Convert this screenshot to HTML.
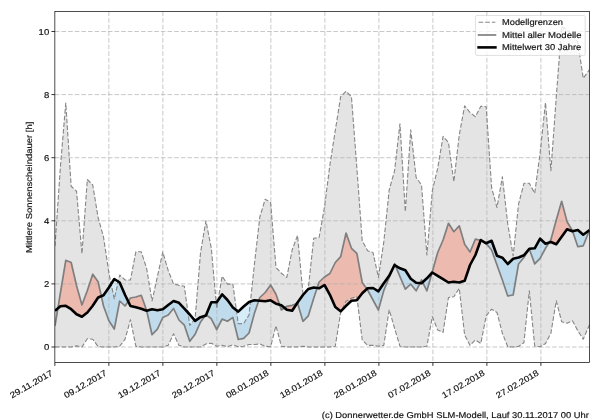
<!DOCTYPE html><html><head><meta charset="utf-8"><title>chart</title><style>html,body{margin:0;padding:0;background:#fff}body{width:600px;height:420px;overflow:hidden}</style></head><body><svg width="600" height="420" viewBox="0 0 600 420" style="display:block;font-family:'Liberation Sans',sans-serif">
<rect width="600" height="420" fill="#fff"/>
<defs><clipPath id="ax"><rect x="54.85" y="11.50" width="534.65" height="351.00"/></clipPath>
<clipPath id="band"><polygon points="55.00,246.00 60.39,167.00 65.78,103.00 71.17,186.25 76.56,191.25 81.95,253.75 87.34,179.50 92.73,185.00 98.12,217.50 103.51,237.00 108.90,273.00 114.29,299.00 119.68,275.00 125.07,280.00 130.46,280.00 135.85,251.80 141.24,251.80 146.63,268.30 152.02,301.00 157.41,276.50 162.80,252.00 168.19,270.50 173.58,284.00 178.97,285.30 184.36,286.30 189.75,325.50 195.14,318.50 200.53,252.70 205.92,220.80 211.31,248.20 216.70,308.50 222.09,276.20 227.48,284.10 232.87,284.10 238.26,323.80 243.65,323.50 249.04,315.00 254.43,264.00 259.82,217.00 265.21,199.20 270.60,202.50 275.99,267.50 281.38,273.30 286.77,277.50 292.16,250.00 297.55,235.30 302.94,293.50 308.33,288.00 313.72,238.30 319.11,237.50 324.50,207.00 329.89,165.00 335.28,130.50 340.67,96.70 346.06,91.30 351.45,96.70 356.84,167.50 362.23,240.80 367.62,250.80 373.01,252.50 378.40,277.50 383.79,242.00 389.18,190.00 394.57,170.80 399.96,123.70 405.35,211.70 410.74,129.70 416.13,177.50 421.52,185.00 426.91,255.00 432.30,190.80 437.69,168.30 443.08,136.30 448.47,142.50 453.86,181.70 459.25,135.00 464.64,105.80 470.03,112.50 475.42,116.70 480.81,106.30 486.20,106.70 491.59,187.50 496.98,207.50 502.37,176.70 507.76,224.00 513.15,255.80 518.54,204.20 523.93,183.30 529.32,183.30 534.71,193.30 540.10,153.00 545.49,102.50 550.88,170.80 556.27,97.00 561.66,26.50 567.05,30.00 572.44,35.00 577.83,42.00 583.22,78.30 588.61,70.80 589.50,69.56 589.50,324.64 588.61,326.70 583.22,339.20 577.83,330.80 572.44,320.80 567.05,323.30 561.66,321.70 556.27,300.80 550.88,333.30 545.49,343.55 540.10,346.75 534.71,346.24 529.32,290.80 523.93,342.69 518.54,346.45 513.15,346.95 507.76,346.75 502.37,333.30 496.98,312.50 491.59,309.20 486.20,315.80 480.81,343.55 475.42,340.00 470.03,345.38 464.64,335.00 459.25,288.30 453.86,296.70 448.47,297.50 443.08,332.50 437.69,330.00 432.30,316.70 426.91,346.24 421.52,346.95 416.13,346.95 410.74,346.95 405.35,346.95 399.96,346.24 394.57,328.30 389.18,309.70 383.79,345.38 378.40,346.24 373.01,345.38 367.62,345.38 362.23,340.00 356.84,296.70 351.45,298.30 346.06,301.30 340.67,312.50 335.28,346.24 329.89,346.95 324.50,346.95 319.11,346.95 313.72,346.95 308.33,346.95 302.94,346.24 297.55,346.95 292.16,346.95 286.77,346.95 281.38,346.24 275.99,325.80 270.60,346.75 265.21,346.24 259.82,343.98 254.43,344.51 249.04,344.51 243.65,346.24 238.26,346.65 232.87,344.84 227.48,346.65 222.09,345.38 216.70,346.24 211.31,343.23 205.92,343.98 200.53,346.95 195.14,346.95 189.75,346.95 184.36,346.95 178.97,345.38 173.58,333.70 168.19,345.38 162.80,346.95 157.41,346.95 152.02,346.95 146.63,346.95 141.24,346.95 135.85,346.24 130.46,319.70 125.07,339.20 119.68,346.24 114.29,346.95 108.90,346.95 103.51,346.95 98.12,346.65 92.73,339.20 87.34,338.70 81.95,346.95 76.56,345.91 71.17,346.95 65.78,346.95 60.39,346.95 55.00,346.95"/></clipPath></defs>
<g clip-path="url(#ax)">
<polygon points="55.00,246.00 60.39,167.00 65.78,103.00 71.17,186.25 76.56,191.25 81.95,253.75 87.34,179.50 92.73,185.00 98.12,217.50 103.51,237.00 108.90,273.00 114.29,299.00 119.68,275.00 125.07,280.00 130.46,280.00 135.85,251.80 141.24,251.80 146.63,268.30 152.02,301.00 157.41,276.50 162.80,252.00 168.19,270.50 173.58,284.00 178.97,285.30 184.36,286.30 189.75,325.50 195.14,318.50 200.53,252.70 205.92,220.80 211.31,248.20 216.70,308.50 222.09,276.20 227.48,284.10 232.87,284.10 238.26,323.80 243.65,323.50 249.04,315.00 254.43,264.00 259.82,217.00 265.21,199.20 270.60,202.50 275.99,267.50 281.38,273.30 286.77,277.50 292.16,250.00 297.55,235.30 302.94,293.50 308.33,288.00 313.72,238.30 319.11,237.50 324.50,207.00 329.89,165.00 335.28,130.50 340.67,96.70 346.06,91.30 351.45,96.70 356.84,167.50 362.23,240.80 367.62,250.80 373.01,252.50 378.40,277.50 383.79,242.00 389.18,190.00 394.57,170.80 399.96,123.70 405.35,211.70 410.74,129.70 416.13,177.50 421.52,185.00 426.91,255.00 432.30,190.80 437.69,168.30 443.08,136.30 448.47,142.50 453.86,181.70 459.25,135.00 464.64,105.80 470.03,112.50 475.42,116.70 480.81,106.30 486.20,106.70 491.59,187.50 496.98,207.50 502.37,176.70 507.76,224.00 513.15,255.80 518.54,204.20 523.93,183.30 529.32,183.30 534.71,193.30 540.10,153.00 545.49,102.50 550.88,170.80 556.27,97.00 561.66,26.50 567.05,30.00 572.44,35.00 577.83,42.00 583.22,78.30 588.61,70.80 589.50,69.56 589.50,324.64 588.61,326.70 583.22,339.20 577.83,330.80 572.44,320.80 567.05,323.30 561.66,321.70 556.27,300.80 550.88,333.30 545.49,343.55 540.10,346.75 534.71,346.24 529.32,290.80 523.93,342.69 518.54,346.45 513.15,346.95 507.76,346.75 502.37,333.30 496.98,312.50 491.59,309.20 486.20,315.80 480.81,343.55 475.42,340.00 470.03,345.38 464.64,335.00 459.25,288.30 453.86,296.70 448.47,297.50 443.08,332.50 437.69,330.00 432.30,316.70 426.91,346.24 421.52,346.95 416.13,346.95 410.74,346.95 405.35,346.95 399.96,346.24 394.57,328.30 389.18,309.70 383.79,345.38 378.40,346.24 373.01,345.38 367.62,345.38 362.23,340.00 356.84,296.70 351.45,298.30 346.06,301.30 340.67,312.50 335.28,346.24 329.89,346.95 324.50,346.95 319.11,346.95 313.72,346.95 308.33,346.95 302.94,346.24 297.55,346.95 292.16,346.95 286.77,346.95 281.38,346.24 275.99,325.80 270.60,346.75 265.21,346.24 259.82,343.98 254.43,344.51 249.04,344.51 243.65,346.24 238.26,346.65 232.87,344.84 227.48,346.65 222.09,345.38 216.70,346.24 211.31,343.23 205.92,343.98 200.53,346.95 195.14,346.95 189.75,346.95 184.36,346.95 178.97,345.38 173.58,333.70 168.19,345.38 162.80,346.95 157.41,346.95 152.02,346.95 146.63,346.95 141.24,346.95 135.85,346.24 130.46,319.70 125.07,339.20 119.68,346.24 114.29,346.95 108.90,346.95 103.51,346.95 98.12,346.65 92.73,339.20 87.34,338.70 81.95,346.95 76.56,345.91 71.17,346.95 65.78,346.95 60.39,346.95 55.00,346.95" fill="#e4e4e4"/>
<path d="M57.87,308.35 L60.39,293.00 L60.39,306.20Z M60.39,293.00 L65.78,260.30 L65.78,305.80 L60.39,306.20Z M65.78,260.30 L71.17,262.50 L71.17,309.20 L65.78,305.80Z M71.17,262.50 L76.56,285.80 L76.56,314.20 L71.17,309.20Z M76.56,285.80 L81.95,305.00 L81.95,316.70 L76.56,314.20Z M81.95,305.00 L87.34,290.50 L87.34,312.50 L81.95,316.70Z M87.34,290.50 L92.73,274.20 L92.73,305.80 L87.34,312.50Z M92.73,274.20 L98.12,281.70 L98.12,297.50 L92.73,305.80Z M98.12,281.70 L101.33,296.19 L98.12,297.50Z M128.19,301.37 L130.46,298.00 L130.46,306.00Z M130.46,298.00 L135.85,297.00 L135.85,307.30 L130.46,306.00Z M135.85,297.00 L141.24,295.30 L141.24,308.80 L135.85,307.30Z M141.24,295.30 L146.63,310.50 L146.63,310.80 L141.24,308.80Z M146.63,310.50 L146.69,310.78 L146.63,310.80Z M205.23,315.63 L205.92,314.70 L205.92,315.40Z M205.92,314.70 L206.14,314.87 L205.92,315.40Z M258.73,300.70 L259.82,297.50 L259.82,300.80Z M259.82,297.50 L265.21,292.50 L265.21,301.30 L259.82,300.80Z M265.21,292.50 L270.60,285.00 L270.60,300.30 L265.21,301.30Z M270.60,285.00 L275.99,294.20 L275.99,303.70 L270.60,300.30Z M275.99,294.20 L279.60,304.77 L275.99,303.70Z M284.51,307.85 L286.77,306.30 L286.77,309.70Z M286.77,306.30 L292.16,305.30 L292.16,310.80 L286.77,309.70Z M292.16,305.30 L296.87,303.55 L292.16,310.80Z M317.12,288.01 L319.11,282.00 L319.11,288.30Z M319.11,282.00 L324.50,277.00 L324.50,285.00 L319.11,288.30Z M324.50,277.00 L329.89,273.50 L329.89,294.80 L324.50,285.00Z M329.89,273.50 L335.28,262.50 L335.28,307.00 L329.89,294.80Z M335.28,262.50 L340.67,256.70 L340.67,311.30 L335.28,307.00Z M340.67,256.70 L346.06,233.00 L346.06,305.80 L340.67,311.30Z M346.06,233.00 L351.45,248.30 L351.45,300.80 L346.06,305.80Z M351.45,248.30 L356.84,253.30 L356.84,300.30 L351.45,300.80Z M356.84,253.30 L362.23,282.50 L362.23,293.30 L356.84,300.30Z M362.23,282.50 L366.89,288.98 L362.23,293.30Z M392.23,269.68 L394.57,263.70 L394.57,265.00Z M394.57,263.70 L395.29,265.44 L394.57,265.00Z M419.96,283.13 L421.52,280.00 L421.52,283.30Z M421.52,280.00 L422.65,282.26 L421.52,283.30Z M431.98,272.85 L432.30,271.70 L432.30,272.50Z M432.30,271.70 L437.69,252.50 L437.69,275.80 L432.30,272.50Z M437.69,252.50 L443.08,240.00 L443.08,279.20 L437.69,275.80Z M443.08,240.00 L448.47,223.30 L448.47,282.50 L443.08,279.20Z M448.47,223.30 L453.86,231.70 L453.86,281.70 L448.47,282.50Z M453.86,231.70 L459.25,225.80 L459.25,282.50 L453.86,281.70Z M459.25,225.80 L464.64,244.20 L464.64,280.80 L459.25,282.50Z M464.64,244.20 L470.03,252.00 L470.03,265.00 L464.64,280.80Z M470.03,252.00 L475.42,239.20 L475.42,255.00 L470.03,265.00Z M475.42,239.20 L480.64,240.46 L475.42,255.00Z M549.08,242.57 L550.88,239.70 L550.88,242.00Z M550.88,239.70 L556.27,220.00 L556.27,244.20 L550.88,242.00Z M556.27,220.00 L561.66,201.30 L561.66,236.70 L556.27,244.20Z M561.66,201.30 L567.05,221.70 L567.05,229.20 L561.66,236.70Z M567.05,221.70 L572.44,230.80 L572.44,231.30 L567.05,229.20Z M572.44,230.80 L572.60,231.26 L572.44,231.30Z" fill="#f6d6cd"/>
<path d="M55.00,325.80 L57.87,308.35 L55.00,310.80Z M101.33,296.19 L103.51,306.00 L103.51,295.30Z M103.51,306.00 L108.90,320.80 L108.90,287.50 L103.51,295.30Z M108.90,320.80 L114.29,329.00 L114.29,279.00 L108.90,287.50Z M114.29,329.00 L119.68,301.00 L119.68,282.50 L114.29,279.00Z M119.68,301.00 L125.07,306.00 L125.07,295.00 L119.68,282.50Z M125.07,306.00 L128.19,301.37 L125.07,295.00Z M146.69,310.78 L152.02,334.70 L152.02,309.20Z M152.02,334.70 L157.41,329.20 L157.41,310.20 L152.02,309.20Z M157.41,329.20 L162.80,317.50 L162.80,309.20 L157.41,310.20Z M162.80,317.50 L168.19,315.00 L168.19,305.00 L162.80,309.20Z M168.19,315.00 L173.58,308.50 L173.58,301.00 L168.19,305.00Z M173.58,308.50 L178.97,320.00 L178.97,302.80 L173.58,301.00Z M178.97,320.00 L184.36,325.20 L184.36,308.60 L178.97,302.80Z M184.36,325.20 L189.75,341.30 L189.75,314.50 L184.36,308.60Z M189.75,341.30 L195.14,334.20 L195.14,320.80 L189.75,314.50Z M195.14,334.20 L200.53,322.00 L200.53,317.20 L195.14,320.80Z M200.53,322.00 L205.23,315.63 L200.53,317.20Z M206.14,314.87 L211.31,318.80 L211.31,302.30Z M211.31,318.80 L216.70,329.50 L216.70,302.30 L211.31,302.30Z M216.70,329.50 L222.09,319.10 L222.09,294.40 L216.70,302.30Z M222.09,319.10 L227.48,321.20 L227.48,300.00 L222.09,294.40Z M227.48,321.20 L232.87,317.40 L232.87,307.50 L227.48,300.00Z M232.87,317.40 L238.26,339.50 L238.26,311.60 L232.87,307.50Z M238.26,339.50 L243.65,338.30 L243.65,306.50 L238.26,311.60Z M243.65,338.30 L249.04,333.00 L249.04,302.00 L243.65,306.50Z M249.04,333.00 L254.43,313.30 L254.43,300.30 L249.04,302.00Z M254.43,313.30 L258.73,300.70 L254.43,300.30Z M279.60,304.77 L281.38,310.00 L281.38,305.30Z M281.38,310.00 L284.51,307.85 L281.38,305.30Z M296.87,303.55 L297.55,303.30 L297.55,302.50Z M297.55,303.30 L302.94,321.30 L302.94,295.00 L297.55,302.50Z M302.94,321.30 L308.33,315.80 L308.33,289.00 L302.94,295.00Z M308.33,315.80 L313.72,298.30 L313.72,287.50 L308.33,289.00Z M313.72,298.30 L317.12,288.01 L313.72,287.50Z M366.89,288.98 L367.62,290.00 L367.62,288.30Z M367.62,290.00 L373.01,300.00 L373.01,288.00 L367.62,288.30Z M373.01,300.00 L378.40,310.00 L378.40,291.30 L373.01,288.00Z M378.40,310.00 L383.79,290.50 L383.79,283.30 L378.40,291.30Z M383.79,290.50 L389.18,277.50 L389.18,275.80 L383.79,283.30Z M389.18,277.50 L392.23,269.68 L389.18,275.80Z M395.29,265.44 L399.96,276.70 L399.96,268.30Z M399.96,276.70 L405.35,289.20 L405.35,270.30 L399.96,268.30Z M405.35,289.20 L410.74,284.20 L410.74,278.80 L405.35,270.30Z M410.74,284.20 L416.13,290.80 L416.13,282.70 L410.74,278.80Z M416.13,290.80 L419.96,283.13 L416.13,282.70Z M422.65,282.26 L426.91,290.80 L426.91,278.30Z M426.91,290.80 L431.98,272.85 L426.91,278.30Z M480.64,240.46 L480.81,240.50 L480.81,240.00Z M480.81,240.50 L486.20,243.50 L486.20,243.30 L480.81,240.00Z M486.20,243.50 L491.59,250.00 L491.59,240.80 L486.20,243.30Z M491.59,250.00 L496.98,265.00 L496.98,255.80 L491.59,240.80Z M496.98,265.00 L502.37,280.00 L502.37,257.70 L496.98,255.80Z M502.37,280.00 L507.76,296.00 L507.76,264.00 L502.37,257.70Z M507.76,296.00 L513.15,295.00 L513.15,258.70 L507.76,264.00Z M513.15,295.00 L518.54,264.00 L518.54,257.50 L513.15,258.70Z M518.54,264.00 L523.93,257.50 L523.93,255.30 L518.54,257.50Z M523.93,257.50 L529.32,249.00 L529.32,248.70 L523.93,255.30Z M529.32,249.00 L534.71,263.90 L534.71,248.30 L529.32,248.70Z M534.71,263.90 L540.10,258.30 L540.10,238.70 L534.71,248.30Z M540.10,258.30 L545.49,248.30 L545.49,243.70 L540.10,238.70Z M545.49,248.30 L549.08,242.57 L545.49,243.70Z M572.60,231.26 L577.83,246.70 L577.83,230.00Z M577.83,246.70 L583.22,245.80 L583.22,234.70 L577.83,230.00Z M583.22,245.80 L588.61,232.50 L588.61,230.80 L583.22,234.70Z" fill="#d7edf8"/>
<g clip-path="url(#band)"><path d="M57.87,308.35 L60.39,293.00 L60.39,306.20Z M60.39,293.00 L65.78,260.30 L65.78,305.80 L60.39,306.20Z M65.78,260.30 L71.17,262.50 L71.17,309.20 L65.78,305.80Z M71.17,262.50 L76.56,285.80 L76.56,314.20 L71.17,309.20Z M76.56,285.80 L81.95,305.00 L81.95,316.70 L76.56,314.20Z M81.95,305.00 L87.34,290.50 L87.34,312.50 L81.95,316.70Z M87.34,290.50 L92.73,274.20 L92.73,305.80 L87.34,312.50Z M92.73,274.20 L98.12,281.70 L98.12,297.50 L92.73,305.80Z M98.12,281.70 L101.33,296.19 L98.12,297.50Z M128.19,301.37 L130.46,298.00 L130.46,306.00Z M130.46,298.00 L135.85,297.00 L135.85,307.30 L130.46,306.00Z M135.85,297.00 L141.24,295.30 L141.24,308.80 L135.85,307.30Z M141.24,295.30 L146.63,310.50 L146.63,310.80 L141.24,308.80Z M146.63,310.50 L146.69,310.78 L146.63,310.80Z M205.23,315.63 L205.92,314.70 L205.92,315.40Z M205.92,314.70 L206.14,314.87 L205.92,315.40Z M258.73,300.70 L259.82,297.50 L259.82,300.80Z M259.82,297.50 L265.21,292.50 L265.21,301.30 L259.82,300.80Z M265.21,292.50 L270.60,285.00 L270.60,300.30 L265.21,301.30Z M270.60,285.00 L275.99,294.20 L275.99,303.70 L270.60,300.30Z M275.99,294.20 L279.60,304.77 L275.99,303.70Z M284.51,307.85 L286.77,306.30 L286.77,309.70Z M286.77,306.30 L292.16,305.30 L292.16,310.80 L286.77,309.70Z M292.16,305.30 L296.87,303.55 L292.16,310.80Z M317.12,288.01 L319.11,282.00 L319.11,288.30Z M319.11,282.00 L324.50,277.00 L324.50,285.00 L319.11,288.30Z M324.50,277.00 L329.89,273.50 L329.89,294.80 L324.50,285.00Z M329.89,273.50 L335.28,262.50 L335.28,307.00 L329.89,294.80Z M335.28,262.50 L340.67,256.70 L340.67,311.30 L335.28,307.00Z M340.67,256.70 L346.06,233.00 L346.06,305.80 L340.67,311.30Z M346.06,233.00 L351.45,248.30 L351.45,300.80 L346.06,305.80Z M351.45,248.30 L356.84,253.30 L356.84,300.30 L351.45,300.80Z M356.84,253.30 L362.23,282.50 L362.23,293.30 L356.84,300.30Z M362.23,282.50 L366.89,288.98 L362.23,293.30Z M392.23,269.68 L394.57,263.70 L394.57,265.00Z M394.57,263.70 L395.29,265.44 L394.57,265.00Z M419.96,283.13 L421.52,280.00 L421.52,283.30Z M421.52,280.00 L422.65,282.26 L421.52,283.30Z M431.98,272.85 L432.30,271.70 L432.30,272.50Z M432.30,271.70 L437.69,252.50 L437.69,275.80 L432.30,272.50Z M437.69,252.50 L443.08,240.00 L443.08,279.20 L437.69,275.80Z M443.08,240.00 L448.47,223.30 L448.47,282.50 L443.08,279.20Z M448.47,223.30 L453.86,231.70 L453.86,281.70 L448.47,282.50Z M453.86,231.70 L459.25,225.80 L459.25,282.50 L453.86,281.70Z M459.25,225.80 L464.64,244.20 L464.64,280.80 L459.25,282.50Z M464.64,244.20 L470.03,252.00 L470.03,265.00 L464.64,280.80Z M470.03,252.00 L475.42,239.20 L475.42,255.00 L470.03,265.00Z M475.42,239.20 L480.64,240.46 L475.42,255.00Z M549.08,242.57 L550.88,239.70 L550.88,242.00Z M550.88,239.70 L556.27,220.00 L556.27,244.20 L550.88,242.00Z M556.27,220.00 L561.66,201.30 L561.66,236.70 L556.27,244.20Z M561.66,201.30 L567.05,221.70 L567.05,229.20 L561.66,236.70Z M567.05,221.70 L572.44,230.80 L572.44,231.30 L567.05,229.20Z M572.44,230.80 L572.60,231.26 L572.44,231.30Z" fill="#ecbaae"/><path d="M55.00,325.80 L57.87,308.35 L55.00,310.80Z M101.33,296.19 L103.51,306.00 L103.51,295.30Z M103.51,306.00 L108.90,320.80 L108.90,287.50 L103.51,295.30Z M108.90,320.80 L114.29,329.00 L114.29,279.00 L108.90,287.50Z M114.29,329.00 L119.68,301.00 L119.68,282.50 L114.29,279.00Z M119.68,301.00 L125.07,306.00 L125.07,295.00 L119.68,282.50Z M125.07,306.00 L128.19,301.37 L125.07,295.00Z M146.69,310.78 L152.02,334.70 L152.02,309.20Z M152.02,334.70 L157.41,329.20 L157.41,310.20 L152.02,309.20Z M157.41,329.20 L162.80,317.50 L162.80,309.20 L157.41,310.20Z M162.80,317.50 L168.19,315.00 L168.19,305.00 L162.80,309.20Z M168.19,315.00 L173.58,308.50 L173.58,301.00 L168.19,305.00Z M173.58,308.50 L178.97,320.00 L178.97,302.80 L173.58,301.00Z M178.97,320.00 L184.36,325.20 L184.36,308.60 L178.97,302.80Z M184.36,325.20 L189.75,341.30 L189.75,314.50 L184.36,308.60Z M189.75,341.30 L195.14,334.20 L195.14,320.80 L189.75,314.50Z M195.14,334.20 L200.53,322.00 L200.53,317.20 L195.14,320.80Z M200.53,322.00 L205.23,315.63 L200.53,317.20Z M206.14,314.87 L211.31,318.80 L211.31,302.30Z M211.31,318.80 L216.70,329.50 L216.70,302.30 L211.31,302.30Z M216.70,329.50 L222.09,319.10 L222.09,294.40 L216.70,302.30Z M222.09,319.10 L227.48,321.20 L227.48,300.00 L222.09,294.40Z M227.48,321.20 L232.87,317.40 L232.87,307.50 L227.48,300.00Z M232.87,317.40 L238.26,339.50 L238.26,311.60 L232.87,307.50Z M238.26,339.50 L243.65,338.30 L243.65,306.50 L238.26,311.60Z M243.65,338.30 L249.04,333.00 L249.04,302.00 L243.65,306.50Z M249.04,333.00 L254.43,313.30 L254.43,300.30 L249.04,302.00Z M254.43,313.30 L258.73,300.70 L254.43,300.30Z M279.60,304.77 L281.38,310.00 L281.38,305.30Z M281.38,310.00 L284.51,307.85 L281.38,305.30Z M296.87,303.55 L297.55,303.30 L297.55,302.50Z M297.55,303.30 L302.94,321.30 L302.94,295.00 L297.55,302.50Z M302.94,321.30 L308.33,315.80 L308.33,289.00 L302.94,295.00Z M308.33,315.80 L313.72,298.30 L313.72,287.50 L308.33,289.00Z M313.72,298.30 L317.12,288.01 L313.72,287.50Z M366.89,288.98 L367.62,290.00 L367.62,288.30Z M367.62,290.00 L373.01,300.00 L373.01,288.00 L367.62,288.30Z M373.01,300.00 L378.40,310.00 L378.40,291.30 L373.01,288.00Z M378.40,310.00 L383.79,290.50 L383.79,283.30 L378.40,291.30Z M383.79,290.50 L389.18,277.50 L389.18,275.80 L383.79,283.30Z M389.18,277.50 L392.23,269.68 L389.18,275.80Z M395.29,265.44 L399.96,276.70 L399.96,268.30Z M399.96,276.70 L405.35,289.20 L405.35,270.30 L399.96,268.30Z M405.35,289.20 L410.74,284.20 L410.74,278.80 L405.35,270.30Z M410.74,284.20 L416.13,290.80 L416.13,282.70 L410.74,278.80Z M416.13,290.80 L419.96,283.13 L416.13,282.70Z M422.65,282.26 L426.91,290.80 L426.91,278.30Z M426.91,290.80 L431.98,272.85 L426.91,278.30Z M480.64,240.46 L480.81,240.50 L480.81,240.00Z M480.81,240.50 L486.20,243.50 L486.20,243.30 L480.81,240.00Z M486.20,243.50 L491.59,250.00 L491.59,240.80 L486.20,243.30Z M491.59,250.00 L496.98,265.00 L496.98,255.80 L491.59,240.80Z M496.98,265.00 L502.37,280.00 L502.37,257.70 L496.98,255.80Z M502.37,280.00 L507.76,296.00 L507.76,264.00 L502.37,257.70Z M507.76,296.00 L513.15,295.00 L513.15,258.70 L507.76,264.00Z M513.15,295.00 L518.54,264.00 L518.54,257.50 L513.15,258.70Z M518.54,264.00 L523.93,257.50 L523.93,255.30 L518.54,257.50Z M523.93,257.50 L529.32,249.00 L529.32,248.70 L523.93,255.30Z M529.32,249.00 L534.71,263.90 L534.71,248.30 L529.32,248.70Z M534.71,263.90 L540.10,258.30 L540.10,238.70 L534.71,248.30Z M540.10,258.30 L545.49,248.30 L545.49,243.70 L540.10,238.70Z M545.49,248.30 L549.08,242.57 L545.49,243.70Z M572.60,231.26 L577.83,246.70 L577.83,230.00Z M577.83,246.70 L583.22,245.80 L583.22,234.70 L577.83,230.00Z M583.22,245.80 L588.61,232.50 L588.61,230.80 L583.22,234.70Z" fill="#c0dcec"/></g>
</g>
<path d="M108.86,11.50V362.50M162.86,11.50V362.50M216.87,11.50V362.50M270.87,11.50V362.50M324.88,11.50V362.50M378.88,11.50V362.50M432.89,11.50V362.50M486.89,11.50V362.50M540.90,11.50V362.50M54.85,347.00H589.50M54.85,283.90H589.50M54.85,220.80H589.50M54.85,157.70H589.50M54.85,94.60H589.50M54.85,31.50H589.50" stroke="#b0b0b0" stroke-width="1" stroke-dasharray="4.63,2" fill="none" opacity="0.7"/>
<g clip-path="url(#ax)" fill="none" stroke-linejoin="round">
<polyline points="55.00,246.00 60.39,167.00 65.78,103.00 71.17,186.25 76.56,191.25 81.95,253.75 87.34,179.50 92.73,185.00 98.12,217.50 103.51,237.00 108.90,273.00 114.29,299.00 119.68,275.00 125.07,280.00 130.46,280.00 135.85,251.80 141.24,251.80 146.63,268.30 152.02,301.00 157.41,276.50 162.80,252.00 168.19,270.50 173.58,284.00 178.97,285.30 184.36,286.30 189.75,325.50 195.14,318.50 200.53,252.70 205.92,220.80 211.31,248.20 216.70,308.50 222.09,276.20 227.48,284.10 232.87,284.10 238.26,323.80 243.65,323.50 249.04,315.00 254.43,264.00 259.82,217.00 265.21,199.20 270.60,202.50 275.99,267.50 281.38,273.30 286.77,277.50 292.16,250.00 297.55,235.30 302.94,293.50 308.33,288.00 313.72,238.30 319.11,237.50 324.50,207.00 329.89,165.00 335.28,130.50 340.67,96.70 346.06,91.30 351.45,96.70 356.84,167.50 362.23,240.80 367.62,250.80 373.01,252.50 378.40,277.50 383.79,242.00 389.18,190.00 394.57,170.80 399.96,123.70 405.35,211.70 410.74,129.70 416.13,177.50 421.52,185.00 426.91,255.00 432.30,190.80 437.69,168.30 443.08,136.30 448.47,142.50 453.86,181.70 459.25,135.00 464.64,105.80 470.03,112.50 475.42,116.70 480.81,106.30 486.20,106.70 491.59,187.50 496.98,207.50 502.37,176.70 507.76,224.00 513.15,255.80 518.54,204.20 523.93,183.30 529.32,183.30 534.71,193.30 540.10,153.00 545.49,102.50 550.88,170.80 556.27,97.00 561.66,26.50 567.05,30.00 572.44,35.00 577.83,42.00 583.22,78.30 588.61,70.80 589.50,69.56" stroke="#808080" stroke-width="1.1" stroke-dasharray="4.63,2" stroke-opacity="0.95"/>
<polyline points="55.00,346.95 60.39,346.95 65.78,346.95 71.17,346.95 76.56,345.91 81.95,346.95 87.34,338.70 92.73,339.20 98.12,346.65 103.51,346.95 108.90,346.95 114.29,346.95 119.68,346.24 125.07,339.20 130.46,319.70 135.85,346.24 141.24,346.95 146.63,346.95 152.02,346.95 157.41,346.95 162.80,346.95 168.19,345.38 173.58,333.70 178.97,345.38 184.36,346.95 189.75,346.95 195.14,346.95 200.53,346.95 205.92,343.98 211.31,343.23 216.70,346.24 222.09,345.38 227.48,346.65 232.87,344.84 238.26,346.65 243.65,346.24 249.04,344.51 254.43,344.51 259.82,343.98 265.21,346.24 270.60,346.75 275.99,325.80 281.38,346.24 286.77,346.95 292.16,346.95 297.55,346.95 302.94,346.24 308.33,346.95 313.72,346.95 319.11,346.95 324.50,346.95 329.89,346.95 335.28,346.24 340.67,312.50 346.06,301.30 351.45,298.30 356.84,296.70 362.23,340.00 367.62,345.38 373.01,345.38 378.40,346.24 383.79,345.38 389.18,309.70 394.57,328.30 399.96,346.24 405.35,346.95 410.74,346.95 416.13,346.95 421.52,346.95 426.91,346.24 432.30,316.70 437.69,330.00 443.08,332.50 448.47,297.50 453.86,296.70 459.25,288.30 464.64,335.00 470.03,345.38 475.42,340.00 480.81,343.55 486.20,315.80 491.59,309.20 496.98,312.50 502.37,333.30 507.76,346.75 513.15,346.95 518.54,346.45 523.93,342.69 529.32,290.80 534.71,346.24 540.10,346.75 545.49,343.55 550.88,333.30 556.27,300.80 561.66,321.70 567.05,323.30 572.44,320.80 577.83,330.80 583.22,339.20 588.61,326.70 589.50,324.64" stroke="#808080" stroke-width="1.1" stroke-dasharray="4.63,2" stroke-opacity="0.95"/>
<polyline points="55.00,325.80 60.39,293.00 65.78,260.30 71.17,262.50 76.56,285.80 81.95,305.00 87.34,290.50 92.73,274.20 98.12,281.70 103.51,306.00 108.90,320.80 114.29,329.00 119.68,301.00 125.07,306.00 130.46,298.00 135.85,297.00 141.24,295.30 146.63,310.50 152.02,334.70 157.41,329.20 162.80,317.50 168.19,315.00 173.58,308.50 178.97,320.00 184.36,325.20 189.75,341.30 195.14,334.20 200.53,322.00 205.92,314.70 211.31,318.80 216.70,329.50 222.09,319.10 227.48,321.20 232.87,317.40 238.26,339.50 243.65,338.30 249.04,333.00 254.43,313.30 259.82,297.50 265.21,292.50 270.60,285.00 275.99,294.20 281.38,310.00 286.77,306.30 292.16,305.30 297.55,303.30 302.94,321.30 308.33,315.80 313.72,298.30 319.11,282.00 324.50,277.00 329.89,273.50 335.28,262.50 340.67,256.70 346.06,233.00 351.45,248.30 356.84,253.30 362.23,282.50 367.62,290.00 373.01,300.00 378.40,310.00 383.79,290.50 389.18,277.50 394.57,263.70 399.96,276.70 405.35,289.20 410.74,284.20 416.13,290.80 421.52,280.00 426.91,290.80 432.30,271.70 437.69,252.50 443.08,240.00 448.47,223.30 453.86,231.70 459.25,225.80 464.64,244.20 470.03,252.00 475.42,239.20 480.81,240.50 486.20,243.50 491.59,250.00 496.98,265.00 502.37,280.00 507.76,296.00 513.15,295.00 518.54,264.00 523.93,257.50 529.32,249.00 534.71,263.90 540.10,258.30 545.49,248.30 550.88,239.70 556.27,220.00 561.66,201.30 567.05,221.70 572.44,230.80 577.83,246.70 583.22,245.80 588.61,232.50 589.50,230.30" stroke="#7f7f7f" stroke-width="1.7"/>
<polyline points="55.00,310.80 60.39,306.20 65.78,305.80 71.17,309.20 76.56,314.20 81.95,316.70 87.34,312.50 92.73,305.80 98.12,297.50 103.51,295.30 108.90,287.50 114.29,279.00 119.68,282.50 125.07,295.00 130.46,306.00 135.85,307.30 141.24,308.80 146.63,310.80 152.02,309.20 157.41,310.20 162.80,309.20 168.19,305.00 173.58,301.00 178.97,302.80 184.36,308.60 189.75,314.50 195.14,320.80 200.53,317.20 205.92,315.40 211.31,302.30 216.70,302.30 222.09,294.40 227.48,300.00 232.87,307.50 238.26,311.60 243.65,306.50 249.04,302.00 254.43,300.30 259.82,300.80 265.21,301.30 270.60,300.30 275.99,303.70 281.38,305.30 286.77,309.70 292.16,310.80 297.55,302.50 302.94,295.00 308.33,289.00 313.72,287.50 319.11,288.30 324.50,285.00 329.89,294.80 335.28,307.00 340.67,311.30 346.06,305.80 351.45,300.80 356.84,300.30 362.23,293.30 367.62,288.30 373.01,288.00 378.40,291.30 383.79,283.30 389.18,275.80 394.57,265.00 399.96,268.30 405.35,270.30 410.74,278.80 416.13,282.70 421.52,283.30 426.91,278.30 432.30,272.50 437.69,275.80 443.08,279.20 448.47,282.50 453.86,281.70 459.25,282.50 464.64,280.80 470.03,265.00 475.42,255.00 480.81,240.00 486.20,243.30 491.59,240.80 496.98,255.80 502.37,257.70 507.76,264.00 513.15,258.70 518.54,257.50 523.93,255.30 529.32,248.70 534.71,248.30 540.10,238.70 545.49,243.70 550.88,242.00 556.27,244.20 561.66,236.70 567.05,229.20 572.44,231.30 577.83,230.00 583.22,234.70 588.61,230.80 589.50,230.16" stroke="#000" stroke-width="2.6"/>
</g>
<rect x="54.85" y="11.50" width="534.65" height="351.00" fill="none" stroke="#000" stroke-width="0.7"/>
<path d="M54.85,362.50v3.4M108.86,362.50v3.4M162.86,362.50v3.4M216.87,362.50v3.4M270.87,362.50v3.4M324.88,362.50v3.4M378.88,362.50v3.4M432.89,362.50v3.4M486.89,362.50v3.4M540.90,362.50v3.4M54.85,347.00h-3.4M54.85,283.90h-3.4M54.85,220.80h-3.4M54.85,157.70h-3.4M54.85,94.60h-3.4M54.85,31.50h-3.4" stroke="#000" stroke-width="0.8" fill="none"/>
<g font-size="8.5" fill="#111" stroke="#111" stroke-width="0.18" opacity="0.99" style="text-rendering:geometricPrecision">
<text x="49.2" y="350.10" text-anchor="end" textLength="5.30" lengthAdjust="spacingAndGlyphs">0</text>
<text x="49.2" y="287.00" text-anchor="end" textLength="5.30" lengthAdjust="spacingAndGlyphs">2</text>
<text x="49.2" y="223.90" text-anchor="end" textLength="5.30" lengthAdjust="spacingAndGlyphs">4</text>
<text x="49.2" y="160.80" text-anchor="end" textLength="5.30" lengthAdjust="spacingAndGlyphs">6</text>
<text x="49.2" y="97.70" text-anchor="end" textLength="5.30" lengthAdjust="spacingAndGlyphs">8</text>
<text x="49.2" y="34.60" text-anchor="end" textLength="10.60" lengthAdjust="spacingAndGlyphs">10</text>
<text transform="translate(53.35,374.70) rotate(-30)" text-anchor="end" textLength="47.71" lengthAdjust="spacingAndGlyphs">29.11.2017</text>
<text transform="translate(107.36,374.70) rotate(-30)" text-anchor="end" textLength="47.71" lengthAdjust="spacingAndGlyphs">09.12.2017</text>
<text transform="translate(161.36,374.70) rotate(-30)" text-anchor="end" textLength="47.71" lengthAdjust="spacingAndGlyphs">19.12.2017</text>
<text transform="translate(215.37,374.70) rotate(-30)" text-anchor="end" textLength="47.71" lengthAdjust="spacingAndGlyphs">29.12.2017</text>
<text transform="translate(269.37,374.70) rotate(-30)" text-anchor="end" textLength="47.71" lengthAdjust="spacingAndGlyphs">08.01.2018</text>
<text transform="translate(323.38,374.70) rotate(-30)" text-anchor="end" textLength="47.71" lengthAdjust="spacingAndGlyphs">18.01.2018</text>
<text transform="translate(377.38,374.70) rotate(-30)" text-anchor="end" textLength="47.71" lengthAdjust="spacingAndGlyphs">28.01.2018</text>
<text transform="translate(431.39,374.70) rotate(-30)" text-anchor="end" textLength="47.71" lengthAdjust="spacingAndGlyphs">07.02.2018</text>
<text transform="translate(485.39,374.70) rotate(-30)" text-anchor="end" textLength="47.71" lengthAdjust="spacingAndGlyphs">17.02.2018</text>
<text transform="translate(539.40,374.70) rotate(-30)" text-anchor="end" textLength="47.71" lengthAdjust="spacingAndGlyphs">27.02.2018</text>
<text transform="translate(32.4,187.3) rotate(-90)" text-anchor="middle" textLength="131.45" lengthAdjust="spacingAndGlyphs">Mittlere Sonnenscheindauer [h]</text>
<text x="588.8" y="417.6" text-anchor="end" textLength="266.91" lengthAdjust="spacingAndGlyphs">(c) Donnerwetter.de GmbH SLM-Modell, Lauf 30.11.2017 00 Uhr</text>
<rect x="475.4" y="15.45" width="109.8" height="40" rx="1.6" fill="#fff" fill-opacity="0.8" stroke="#ccc" stroke-opacity="0.8" stroke-width="0.8"/>
<path d="M478.6,22.3H495.4" fill="none" stroke="#808080" stroke-width="1.1" stroke-dasharray="4.63,2" stroke-opacity="0.95"/>
<path d="M478.6,35.0H495.4" stroke-linecap="square" stroke="#7f7f7f" stroke-width="1.7"/>
<path d="M478.6,47.4H495.4" stroke-linecap="square" stroke="#000" stroke-width="2.6"/>
<text x="502" y="25.30" textLength="61.06" lengthAdjust="spacingAndGlyphs">Modellgrenzen</text>
<text x="502" y="37.60" textLength="79.53" lengthAdjust="spacingAndGlyphs">Mittel aller Modelle</text>
<text x="502" y="49.90" textLength="79.23" lengthAdjust="spacingAndGlyphs">Mittelwert 30 Jahre</text>
</g></svg></body></html>
